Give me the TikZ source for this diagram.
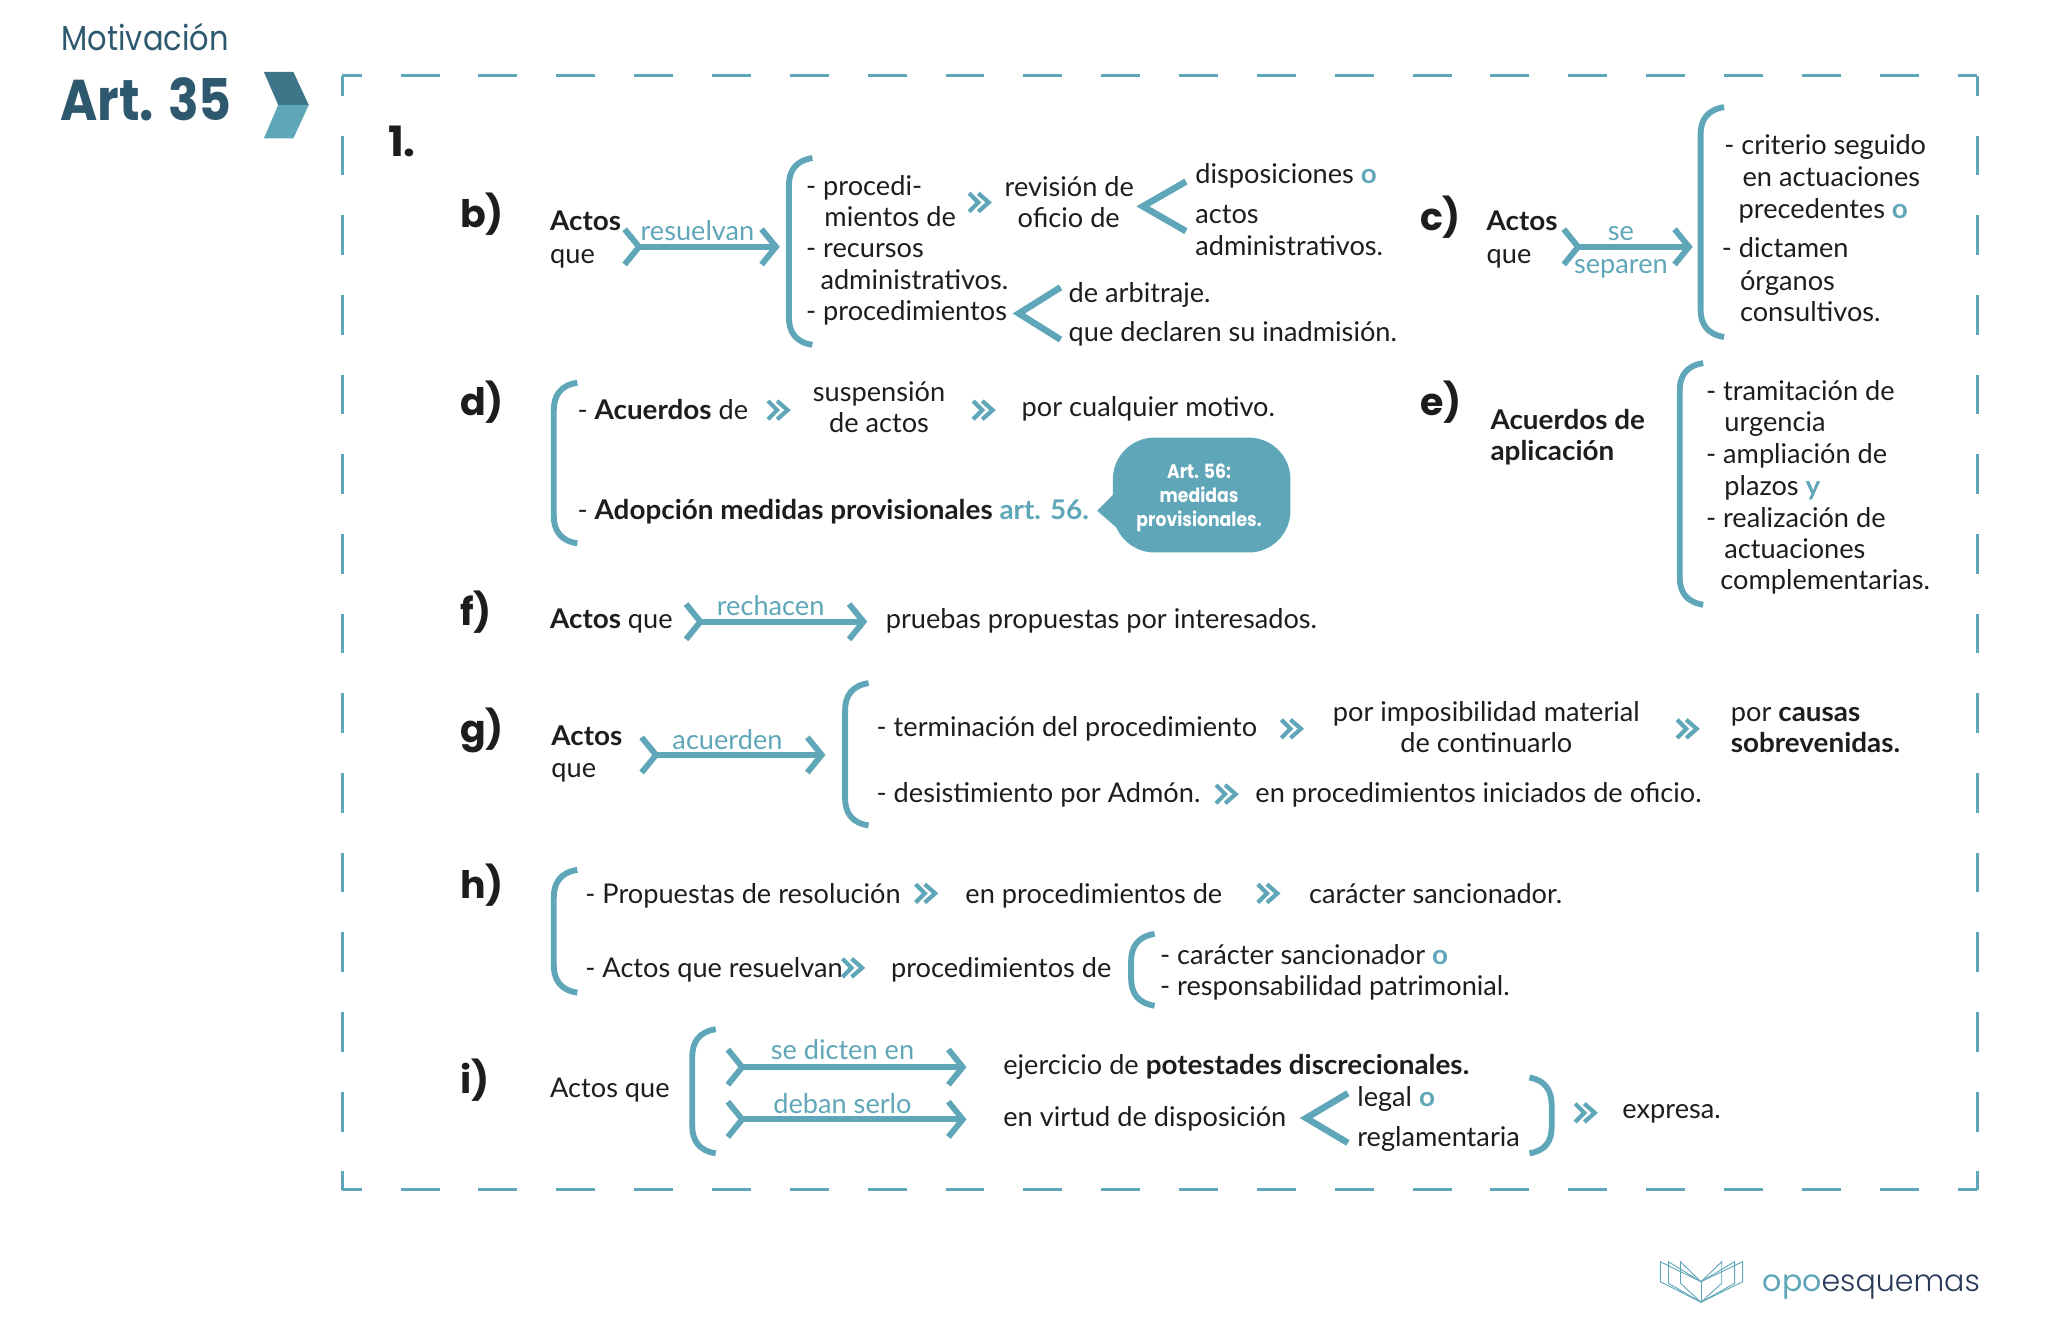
\documentclass[tikz,border=0pt]{standalone}
\usepackage{fontspec}
\setmainfont{Lato}[BoldFeatures={FakeStretch=1.025}]
\newfontfamily\headfont{Poppins}
\newfontfamily\titlefont{Poppins}[FakeStretch=0.88]
\newfontfamily\logofont{Poppins Light}
\usetikzlibrary{arrows.meta,positioning}
\definecolor{tealcol}{RGB}{95,166,184}
\definecolor{darkcol}{RGB}{61,118,136}
\definecolor{headcol}{RGB}{45,88,110}
\definecolor{navycol}{RGB}{38,58,88}
\definecolor{inkcol}{RGB}{29,29,27}
\newcommand{\acc}[1]{\textbf{\textcolor{tealcol}{#1}}}

\begin{document}
\begin{tikzpicture}[x=1pt,y=-1pt,
    tx/.style={anchor=west,inner sep=0pt,text height=20pt,text depth=5pt,text=inkcol,font=\fontsize{20.8}{24}\selectfont},
    ct/.style={tx,anchor=center},
    lb/.style={ct,text=tealcol},
    let/.style={anchor=west,inner sep=0pt,text=inkcol,font=\headfont\bfseries\fontsize{29}{32}\selectfont},
    fl/.style={tealcol,line width=4.5pt,{Straight Barb[reversed,length=11pt,width=27pt]}-{Straight Barb[length=11pt,width=27pt]}},
    brk/.style={tealcol,line width=4.5pt},
    chev/.style={tealcol,line width=5pt},
    dbl/.style={tealcol,line width=3.2pt},
    frm/.style={tealcol,line width=2.3pt}]
  \useasboundingbox (0,0) rectangle (1568,1027.4);
  % heading
  \node[anchor=west,inner sep=0pt,text=headcol,font=\titlefont\fontsize{26.5}{28}\selectfont] (mot) at (47,28) {Motivación};
  \node[anchor=west,inner sep=0pt,text=headcol,font=\titlefont\bfseries\fontsize{44}{48}\selectfont] (art) at (46,76) {Art. 35};
  \fill[darkcol] (202,55)--(224.6,55)--(236.4,80.4)--(213,80.4)--cycle;
  \fill[tealcol] (213,80.4)--(236.4,80.4)--(224.6,106)--(202,106)--cycle;
  % frame, each side with its own dash period
  \draw[frm,dash pattern=on 29.8pt off 29.8pt,dash phase=14.9pt] (262,58)--(1514,58) (262,911)--(1514,911);
  \draw[frm,dash pattern=on 30.5pt off 30.5pt,dash phase=15.2pt] (262,58)--(262,911) (1514,58)--(1514,911);
  % section letters
  \node[let,font=\headfont\bfseries\fontsize{32}{36}\selectfont] (one) at (297,108) {1.};
  \foreach \x/\y/\t [count=\i] in {352/164/b),1087/166/c),352/308/d),1087/308/e),352/469/f),352/559/g),352/678/h),352/827/i)}
    {\node[let] (let\i) at (\x,\y) {\t};}
  % lines of text, left aligned
  \foreach \x/\y/\t [count=\i] in {
    421/169/\textbf{Actos},421/194/que,617/142/- procedi-,631/166/mientos de,617/190/- recursos,
    628/214/administrativos.,617/238/- procedimientos,769/143/revisión de,779/167/oficio de,
    915/133/disposiciones \acc{o},915/164/actos,915/188/administrativos.,818/224/de arbitraje.,
    818/254/que declaren su inadmisión.,
    1138/169/\textbf{Actos},1138/194/que,1320/111/- criterio seguido,1334/135/en actuaciones,
    1331/160/precedentes \acc{o},1318/190/- dictamen,1332/215/órganos,1332/239/consultivos.,
    442/314/- \textbf{Acuerdos} de,782/311/por cualquier motivo.,
    442/390/- \textbf{Adopción medidas provisionales} \acc{art. 56.},
    1141/321/\textbf{Acuerdos de},1141/345/\textbf{aplicación},1306/299/- tramitación de,1320/323/urgencia,
    1306/347/- ampliación de,1320/372/plazos \acc{y},1306/396/- realización de,1320/420/actuaciones,
    1317/444/complementarias.,
    421/474/\textbf{Actos} que,678/474/pruebas propuestas por interesados.,
    422/563/\textbf{Actos},422/588/que,671/556/- terminación del procedimiento,1325/545/por \textbf{causas},
    1325/569/\textbf{sobrevenidas.},671/607/- desistimiento por Admón.,961/607/en procedimientos iniciados de oficio.,
    448/684/- Propuestas de resolución,739/684/en procedimientos de,1002/684/carácter sancionador.,
    448/741/- Actos que resuelvan,682/741/procedimientos de,888/731/- carácter sancionador \acc{o},
    888/755/- responsabilidad patrimonial.,
    421/833/Actos que,768/815/ejercicio de \textbf{potestades discrecionales.},768/855/en virtud de disposición,
    1039/840/legal \acc{o},1039/870/reglamentaria,1242/849/expresa.}
    {\node[tx] (t\i) at (\x,\y) {\t};}
  % centred lines
  \foreach \x/\y/\t [count=\i] in {673/300/suspensión,673/324/de actos,1138/545/por imposibilidad material,1138/569/de continuarlo}
    {\node[ct] (c\i) at (\x,\y) {\t};}
  % arrows with their labels
  \foreach \xa/\xb/\y [count=\i] in {476/597/189,1195/1296/189,523/664/476,489/632/578,555/740/817,555/740/857}
    {\coordinate (fa\i) at (\xa,\y); \coordinate (fb\i) at (\xb,\y); \draw[fl] (fa\i)--(fb\i);}
  \foreach \x/\y/\t [count=\i] in {534/177/resuelvan,1241/177/se,1241/202/separen,590/464/rechacen,557/566/acuerden,645/804/se dicten en,645/845/deban serlo}
    {\node[lb] (l\i) at (\x,\y) {\t};}
  % left brackets
  \foreach \x/\ya/\yb in {604/120/265,1302/81/259,424/292/417,1286/277/464,647/522/633,424/665/761,866/714/771,530/787/884}
    {\draw[brk] (\x+18,\ya+1) .. controls (\x+5,\ya+3) and (\x,\ya+11) .. (\x,\ya+22) -- (\x,\yb-22) .. controls (\x,\yb-11) and (\x+5,\yb-3) .. (\x+18,\yb-1);}
  \draw[brk] (1171,825) .. controls (1183,827) and (1188,835) .. (1188,846) -- (1188,863) .. controls (1188,874) and (1183,881) .. (1171,883);
  % open chevrons
  \foreach \x/\y/\w/\h in {875/158/33/19,780/240/32/20,1000/856/32/19}
    {\draw[chev] (\x+\w,\y-\h)--(\x,\y)--(\x+\w,\y+\h);}
  % double chevrons
  \foreach \x/\y in {752/155,598/314,755/314,991/558,1294/558,941/608,711/684,973/684,655/741,1216/852}
    {\draw[dbl] (\x-10,\y-7)--(\x-3,\y)--(\x-10,\y+7) (\x-3,\y-7)--(\x+5,\y)--(\x-3,\y+7);}
  % note on art. 56
  \node[fill=tealcol,rounded corners=32pt,minimum width=136pt,minimum height=88pt,inner sep=0pt] (note) at (920,379) {};
  \fill[tealcol] (840,391)--(856,375)--(856,405)--cycle;
  \node[inner sep=0pt,text=white,align=center,font=\titlefont\bfseries\fontsize{15}{18.5}\selectfont] (notetxt) at (918,381) {Art. 56:\\medidas\\provisionales.};
  % logo
  \foreach \a/\b in {1271.2/981.3,1277.4/982.5,1286.6/982.5,1334.2/981.3,1328.1/982.5,1318.2/982.5}
    {\draw[tealcol,line width=0.7pt] (1302.3,981.3)--(\a,966)--(\a,\b)--(1302.3,997);}
  \draw[tealcol,line width=0.7pt] (1302.3,981.3)--(1302.3,997);
  \node[anchor=east,inner sep=0pt,font=\logofont\fontsize{23}{26}\selectfont] (logo) at (1516,985) {\textcolor{tealcol}{\headfont opo}\textcolor{navycol}{esquemas}};
\end{tikzpicture}
\end{document}
